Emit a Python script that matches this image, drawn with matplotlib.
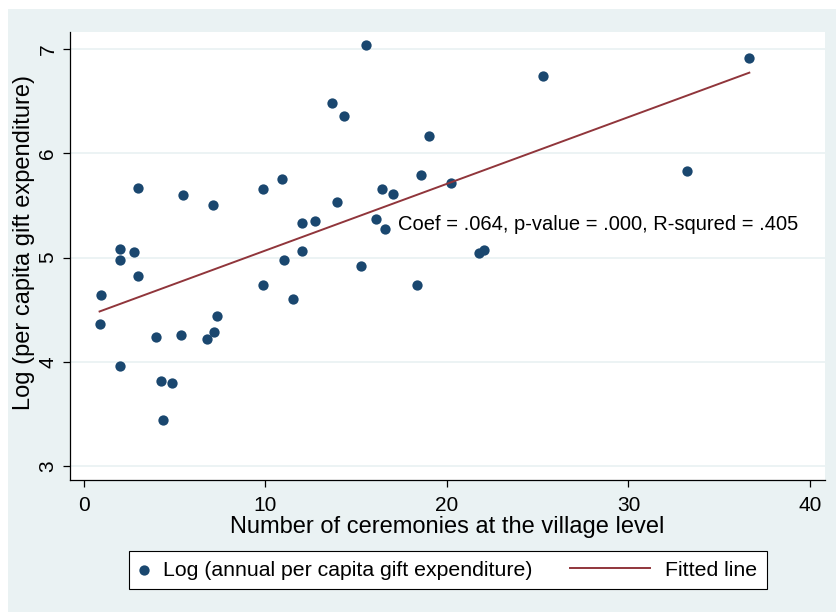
import matplotlib
matplotlib.use("Agg")
import matplotlib.pyplot as plt
import numpy as np
from matplotlib.patches import Rectangle
from matplotlib.legend_handler import HandlerLine2D

plt.rcParams['font.family'] = ['Liberation Sans', 'DejaVu Sans']

# values
ceremonies = [15.54, 13.66, 14.34, 18.99, 2.98, 5.45, 7.13, 9.84, 10.91, 18.57,
              20.22, 16.42, 17.04, 13.92, 11.99, 12.71, 16.09, 16.57, 1.98, 1.98,
              2.77, 2.98, 0.96, 0.86, 11.04, 12.03, 9.84, 11.53, 15.26, 18.35,
              7.31, 7.18, 6.78, 5.33, 3.98, 1.98, 4.24, 4.85, 4.37, 25.29,
              36.66, 33.22, 21.78, 22.02]
log_gift = [7.04, 6.48, 6.36, 6.17, 5.67, 5.60, 5.50, 5.66, 5.75, 5.79,
            5.71, 5.66, 5.61, 5.53, 5.33, 5.35, 5.37, 5.27, 5.08, 4.98,
            5.05, 4.82, 4.64, 4.36, 4.98, 5.06, 4.74, 4.60, 4.92, 4.74,
            4.44, 4.29, 4.22, 4.26, 4.24, 3.96, 3.82, 3.80, 3.44, 6.74,
            6.91, 5.83, 5.04, 5.07]
x_ticks = [0, 10, 20, 30, 40]
y_ticks = [3, 4, 5, 6, 7]
note = "Coef = .064, p-value = .000, R-squred = .405"

navy = '#1A476F'
maroon = '#90353B'
bg = '#EAF2F3'

x = np.array(ceremonies)
y = np.array(log_gift)
slope, intercept = np.polyfit(x, y, 1)
xfit = np.sort(x)
yfit = intercept + slope * xfit


class LongLine(HandlerLine2D):
    # line handle drawn longer than the (short) handle box, extending left
    def create_artists(self, legend, orig_handle, xdescent, ydescent,
                       width, height, fontsize, trans):
        extra = 57.6 - width
        return super().create_artists(legend, orig_handle, xdescent + extra,
                                      ydescent, width + extra, height,
                                      fontsize, trans)


fig = plt.figure(figsize=(8.36, 6.12), dpi=100, facecolor='white')
fig.patches.append(Rectangle((8 / 836, 0), 1, 1 - 9 / 612,
                             transform=fig.transFigure, facecolor=bg,
                             edgecolor='none', zorder=-10))

ax = fig.add_axes([70 / 836, 1 - 480 / 612, 755 / 836, 448 / 612])
ax.set_facecolor('white')

pts = ax.scatter(x, y, s=55, color=navy, zorder=3, linewidths=0,
                 label='Log (annual per capita gift expenditure)')
fit, = ax.plot(xfit, yfit, color=maroon, lw=1.4, zorder=4, label='Fitted line')

ax.text(17.3, 5.32, note, fontsize=14.5, va='center', ha='left', zorder=5)

ax.set_xlim(-0.77, 40.83)
ax.set_ylim(2.866, 7.163)
ax.set_xticks(x_ticks)
ax.set_yticks(y_ticks)
ax.grid(axis='y', color=bg, lw=1.3)
ax.set_axisbelow(True)

for s in ['top', 'right']:
    ax.spines[s].set_visible(False)
for s in ['left', 'bottom']:
    ax.spines[s].set_color('black')
    ax.spines[s].set_linewidth(0.9)

ax.tick_params(axis='both', direction='out', length=5, width=0.9,
               color='black', labelsize=15)
ax.tick_params(axis='x', pad=6.5)
ax.tick_params(axis='y', pad=4, labelrotation=90)
for lab in ax.get_yticklabels():
    lab.set_va('center')

ax.set_xlabel('Number of ceremonies at the village level', fontsize=17)
ax.xaxis.set_label_coords(0.5, -0.081)
ax.set_ylabel('Log (per capita gift expenditure)', fontsize=17)
ax.yaxis.set_label_coords(-0.046, 0.53)

leg = fig.legend(handles=[pts, fit], loc='center',
                 bbox_to_anchor=(448 / 836, 1 - 570 / 612), ncol=2,
                 fontsize=15.3, frameon=True, fancybox=False, framealpha=1,
                 edgecolor='black', borderpad=0.45, handlelength=0.45,
                 handletextpad=0.69, columnspacing=5.1, scatterpoints=1,
                 handler_map={fit: LongLine()})
leg.get_frame().set_linewidth(0.8)

fig.savefig('out.png', dpi=100, facecolor='white')
